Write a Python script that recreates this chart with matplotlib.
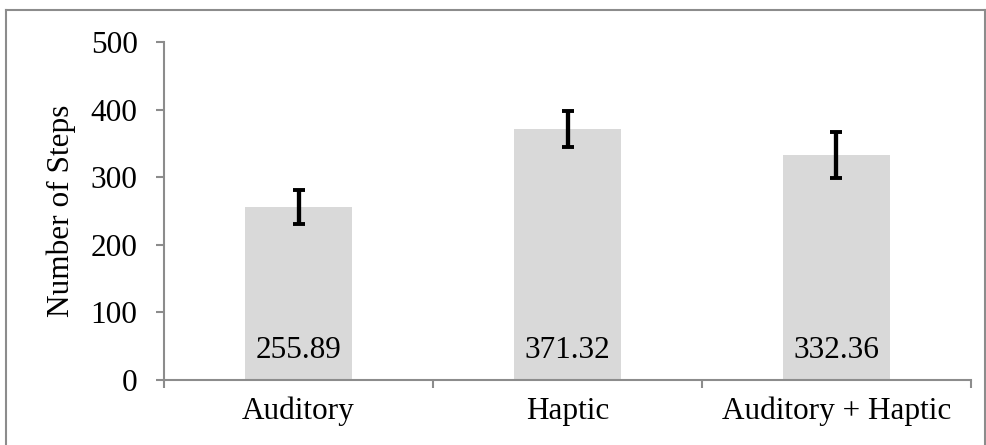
import numpy as np
import matplotlib
matplotlib.use('Agg')
import matplotlib.pyplot as plt
from matplotlib.lines import Line2D

# data
conditions = ['Auditory', 'Haptic', 'Auditory + Haptic']
steps = [255.89, 371.32, 332.36]
errors = [25, 27, 34]
yticks = [0, 100, 200, 300, 400, 500]

plt.rcParams['font.family'] = ['Liberation Serif', 'DejaVu Serif']
axis_grey = '#8c8c8c'
fs = 22.5

fig = plt.figure(figsize=(9.87, 4.45), dpi=100)
ax = fig.add_axes([164/987., 1-380/445., (971-164)/987., (380-42)/445.])

x = np.arange(len(conditions))
ax.bar(x, steps, width=0.4, color='#d9d9d9', zorder=2)
ax.errorbar(x, steps, yerr=errors, fmt='none', ecolor='black',
            elinewidth=3.1, capsize=4.4, capthick=2.8, zorder=3)

for xi, v in zip(x, steps):
    ax.text(xi, 43, '{0:.2f}'.format(v), ha='center', va='center',
            fontsize=fs, zorder=4)

ax.set_xlim(-0.5, len(conditions)-0.5)
ax.set_ylim(0, 500)
ax.set_yticks(yticks)
ax.set_xticks(x)
ax.set_xticklabels(conditions)
ax.set_xticks(np.arange(len(conditions)+1)-0.5, minor=True)

for s in ['top', 'right']:
    ax.spines[s].set_visible(False)
for s in ['left', 'bottom']:
    ax.spines[s].set_color(axis_grey)
    ax.spines[s].set_linewidth(1.5)

ax.tick_params(axis='x', which='major', length=0, pad=12, labelsize=fs)
ax.tick_params(axis='x', which='minor', length=6, width=1.5, color=axis_grey, direction='out')
ax.tick_params(axis='y', length=6, width=1.5, color=axis_grey, direction='out',
               pad=13, labelsize=fs)

ax.set_ylabel('Number of Steps', fontsize=fs)
ax.yaxis.set_label_coords((76-164)/807., 0.5)

# outer chart frame
fw, fh = 987., 445.
frame_kw = dict(color='#8c8c8c', linewidth=1.5, transform=fig.transFigure)
fig.add_artist(Line2D([6/fw, 985/fw], [1-10/fh, 1-10/fh], **frame_kw))
fig.add_artist(Line2D([6/fw, 6/fw], [1-10/fh, 0], **frame_kw))
fig.add_artist(Line2D([985/fw, 985/fw], [1-10/fh, 0], **frame_kw))

fig.savefig('out.png', dpi=100)
